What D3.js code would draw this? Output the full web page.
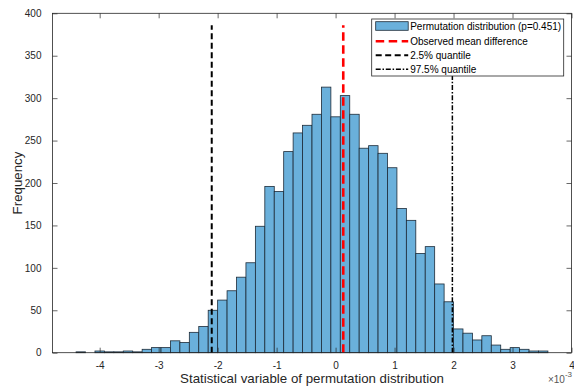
<!DOCTYPE html>
<html>
<head>
<meta charset="utf-8">
<script src="https://cdn.jsdelivr.net/npm/d3@7"></script>
<style>
  html, body { margin: 0; padding: 0; background: #fff; }
  svg { display: block; font-family: "Liberation Sans", Arial, sans-serif; }
</style>
</head>
<body>
<svg id="chart" width="574" height="387"></svg>
<script>
// Histogram of the permutation statistic (5000 permutations), 50 equal-width bins
const binStart = -4.4e-3;
const binWidth = 0.16e-3;
const counts = [
  1, 0, 2, 1, 1, 2, 1, 4, 6, 6,
  14, 12, 24, 31, 50, 62, 73, 89, 106, 149,
  196, 190, 237, 259, 268, 281, 313, 278, 303, 281,
  241, 244, 235, 218, 170, 156, 117, 125, 81, 60,
  28, 23, 15, 20, 9, 4, 6, 4, 2, 2
];

// Reference lines
const observedDiff = 0.13e-3;
const quantile025 = -2.1e-3;
const quantile975 = 1.98e-3;
const pValue = 0.451;
const lineTop = 386;

// Axis settings
const xDomain = [-4.8e-3, 4e-3];
const yDomain = [0, 400];
const xTicks = [-4, -3, -2, -1, 0, 1, 2, 3, 4];
const yTicks = [0, 50, 100, 150, 200, 250, 300, 350, 400];

const legendLabels = [
  `Permutation distribution (p=${pValue})`,
  "Observed mean difference",
  "2.5% quantile",
  "97.5% quantile"
];

const bins = counts.map((c, i) => ({
  x0: binStart + i * binWidth,
  x1: binStart + (i + 1) * binWidth,
  count: c
}));

const svg = d3.select("#chart");
const margin = { left: 52.5, right: 2.5, top: 13.3, bottom: 34.3 };
const W = 574, H = 387;

const x = d3.scaleLinear().domain(xDomain).range([margin.left, W - margin.right]);
const y = d3.scaleLinear().domain(yDomain).range([H - margin.bottom, margin.top]);

const axisColor = "#262626";
const barFill = "#6ab0db";
const barStroke = "#1d2b38";

// bars
svg.append("g")
  .selectAll("rect")
  .data(bins)
  .join("rect")
  .attr("x", d => x(d.x0))
  .attr("width", d => x(d.x1) - x(d.x0))
  .attr("y", d => y(d.count))
  .attr("height", d => y(0) - y(d.count))
  .attr("fill", barFill)
  .attr("stroke", barStroke)
  .attr("stroke-width", 0.8);

// vertical reference lines
const vlines = [
  { v: observedDiff, color: "#ff0000", width: 2.6, dash: "8.5,4.5" },
  { v: quantile025, color: "#000000", width: 2, dash: "6,3.5" },
  { v: quantile975, color: "#000000", width: 1.5, dash: "5,1.8,1.5,1.8" }
];
svg.append("g")
  .selectAll("line")
  .data(vlines)
  .join("line")
  .attr("x1", d => x(d.v))
  .attr("x2", d => x(d.v))
  .attr("y1", y(0))
  .attr("y2", y(lineTop))
  .attr("stroke", d => d.color)
  .attr("stroke-width", d => d.width)
  .attr("stroke-dasharray", d => d.dash);

// axes (ticks inside, box on)
const tickLen = 5;
const xAxis = d3.axisBottom(x)
  .tickValues(xTicks.map(t => t * 1e-3))
  .tickSizeInner(-tickLen).tickSizeOuter(0)
  .tickPadding(9)
  .tickFormat(d => d3.format("d")(Math.round(d * 1e3)).replace("\u2212", "-"));
const yAxis = d3.axisLeft(y)
  .tickValues(yTicks)
  .tickSizeInner(-tickLen).tickSizeOuter(0)
  .tickPadding(11);

function styleAxis(g) {
  g.select(".domain").remove();
  g.selectAll(".tick line").attr("stroke", axisColor).attr("stroke-width", 0.7);
  g.selectAll(".tick text").attr("fill", axisColor).attr("font-size", 10)
    .attr("font-family", "Liberation Sans, Arial, sans-serif");
}

svg.append("g")
  .attr("transform", `translate(0,${y(0)})`)
  .call(xAxis).call(styleAxis);
svg.append("g")
  .attr("transform", `translate(${margin.left},0)`)
  .call(yAxis).call(styleAxis);

// top and right tick marks
svg.append("g")
  .attr("transform", `translate(0,${margin.top})`)
  .call(d3.axisTop(x).tickValues(xTicks.map(t => t * 1e-3)).tickSizeInner(-tickLen).tickSizeOuter(0).tickFormat(""))
  .call(styleAxis);
svg.append("g")
  .attr("transform", `translate(${W - margin.right},0)`)
  .call(d3.axisRight(y).tickValues(yTicks).tickSizeInner(-tickLen).tickSizeOuter(0).tickFormat(""))
  .call(styleAxis);

// axes box
svg.append("rect")
  .attr("x", margin.left).attr("y", margin.top)
  .attr("width", W - margin.right - margin.left)
  .attr("height", y(0) - margin.top)
  .attr("fill", "none")
  .attr("stroke", axisColor)
  .attr("stroke-width", 0.8);

// axis labels
svg.append("text")
  .attr("x", (margin.left + W - margin.right) / 2)
  .attr("y", 382.5)
  .attr("text-anchor", "middle")
  .attr("font-size", 13.3)
  .attr("fill", axisColor)
  .text("Statistical variable of permutation distribution");

svg.append("text")
  .attr("transform", `translate(22,${(margin.top + y(0)) / 2}) rotate(-90)`)
  .attr("text-anchor", "middle")
  .attr("font-size", 13.3)
  .attr("fill", axisColor)
  .text("Frequency");

// exponent label
const expo = svg.append("text")
  .attr("x", W - 2)
  .attr("y", 383)
  .attr("text-anchor", "end")
  .attr("font-size", 10)
  .attr("fill", "#555");
expo.append("tspan").text("\u00d710");
expo.append("tspan").attr("dy", -6).attr("font-size", 8).text("-3");

// legend
const lg = svg.append("g");
const lgX = 371.7, lgY = 19, lgW = 192, lgH = 57;
lg.append("rect")
  .attr("x", lgX).attr("y", lgY).attr("width", lgW).attr("height", lgH)
  .attr("fill", "#fff").attr("stroke", axisColor).attr("stroke-width", 0.8);

const rowY = [26, 41.3, 55.3, 69.2];
const sampleX0 = lgX + 4, sampleX1 = lgX + 36.5;

lg.append("rect")
  .attr("x", sampleX0).attr("y", rowY[0] - 4.3)
  .attr("width", sampleX1 - sampleX0).attr("height", 8.6)
  .attr("fill", barFill).attr("stroke", barStroke).attr("stroke-width", 0.8);

vlines.forEach((d, i) => {
  lg.append("line")
    .attr("x1", sampleX0).attr("x2", sampleX1)
    .attr("y1", rowY[i + 1]).attr("y2", rowY[i + 1])
    .attr("stroke", d.color)
    .attr("stroke-width", d.width)
    .attr("stroke-dasharray", d.dash);
});

lg.selectAll("text.lbl")
  .data(legendLabels)
  .join("text")
  .attr("class", "lbl")
  .attr("x", lgX + 38.5)
  .attr("y", (d, i) => rowY[i] + 3.6)
  .attr("font-size", 10)
  .attr("fill", "#000")
  .text(d => d);
</script>
</body>
</html>
